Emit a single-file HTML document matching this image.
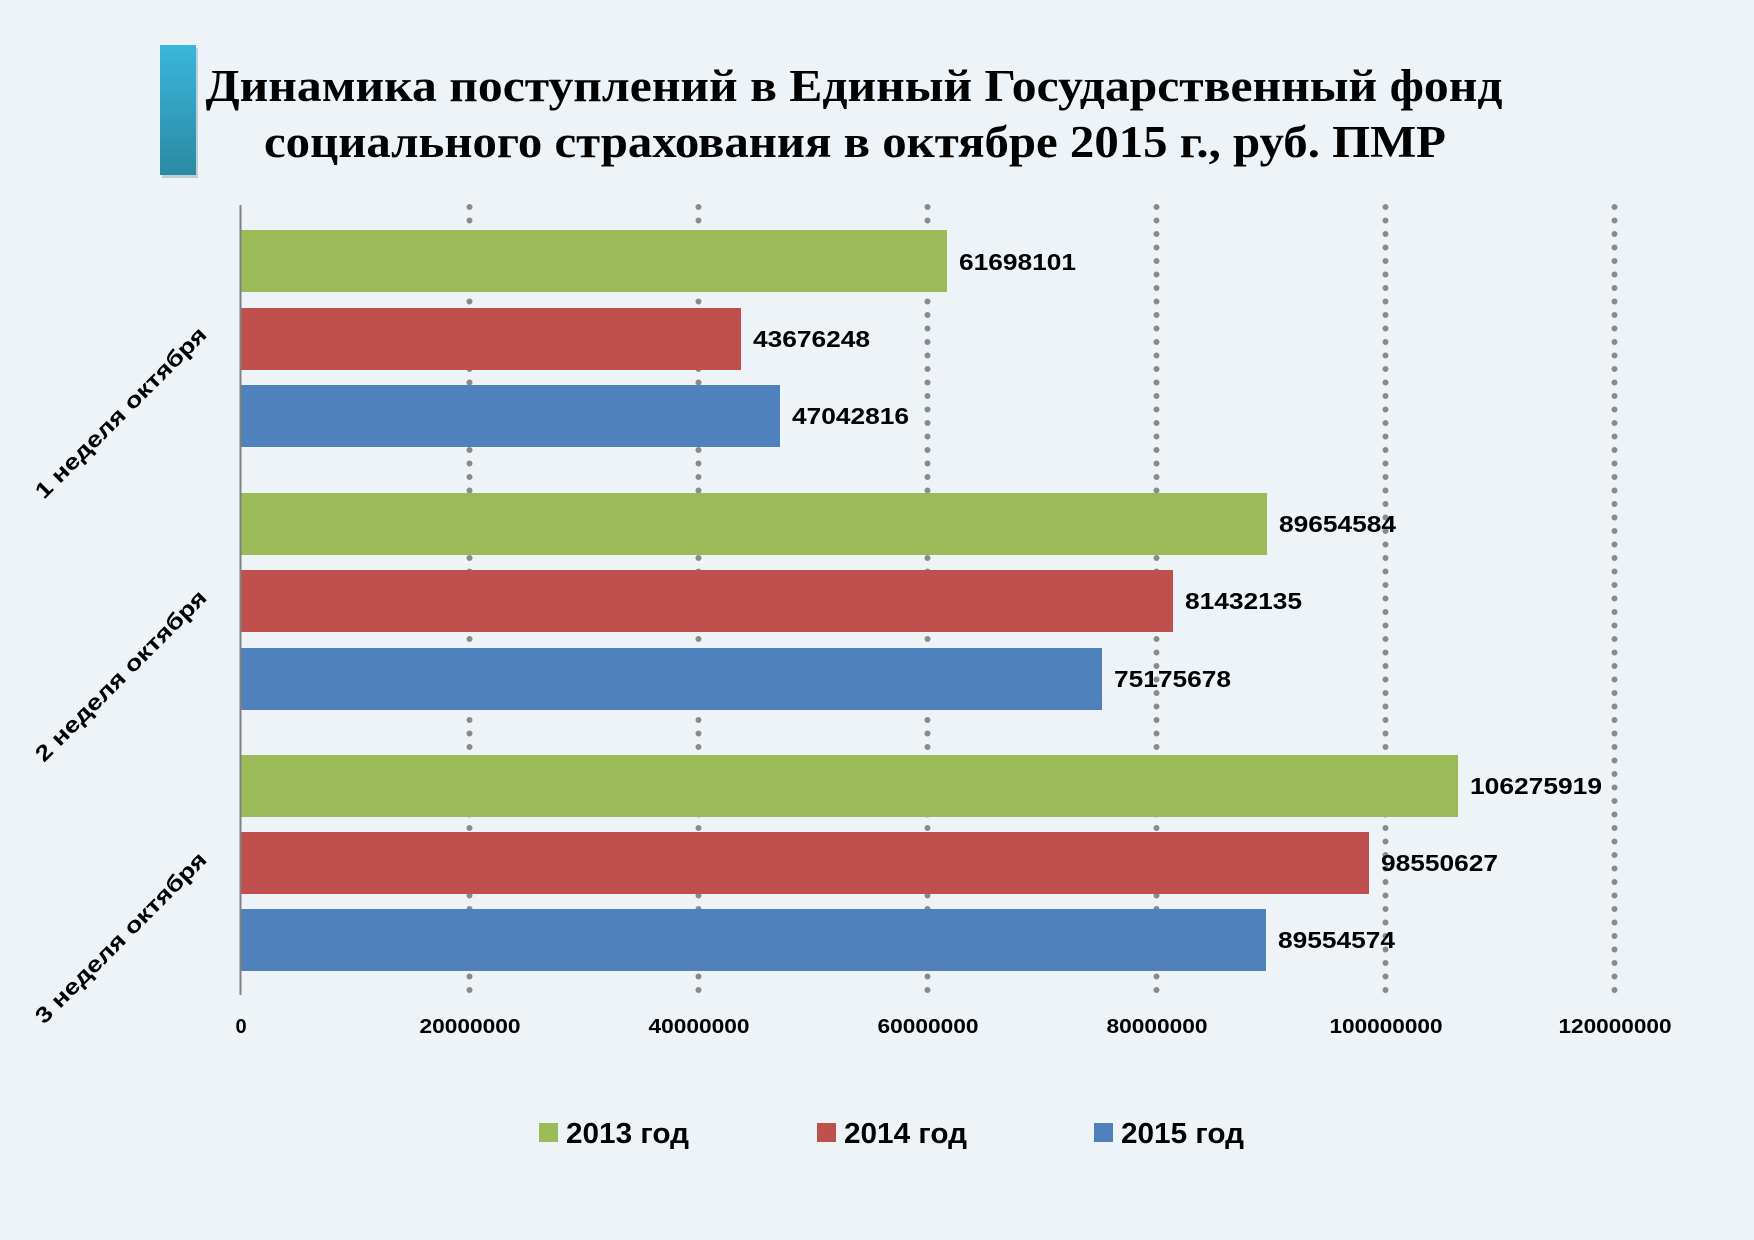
<!DOCTYPE html>
<html><head><meta charset="utf-8"><style>
html,body{margin:0;padding:0;background:#eef3f7;}
svg{display:block;}
text{font-family:"Liberation Sans",sans-serif;font-weight:bold;fill:#000;}
.t{font-family:"Liberation Serif",serif;font-size:45px;}
</style></head><body>
<svg width="1754" height="1240" viewBox="0 0 1754 1240" xmlns="http://www.w3.org/2000/svg">
<defs>
<linearGradient id="acc" x1="0" y1="0" x2="0" y2="1">
<stop offset="0" stop-color="#3bb6da"/><stop offset="1" stop-color="#2a8aa3"/>
</linearGradient>
</defs>
<rect width="1754" height="1240" fill="#eef3f7"/>
<rect x="162" y="48" width="36" height="130" fill="#9fb8c2" opacity="0.6"/>
<rect x="160" y="45" width="36" height="130" fill="url(#acc)"/>
<text class="t" x="854" y="101" text-anchor="middle" textLength="1297" lengthAdjust="spacingAndGlyphs">Динамика поступлений в Единый Государственный фонд</text>
<text class="t" x="855" y="157" text-anchor="middle" textLength="1182" lengthAdjust="spacingAndGlyphs">социального страхования в октябре 2015 г., руб. ПМР</text>
<g stroke="#8a8a8a" stroke-width="6" stroke-linecap="round" stroke-dasharray="0 13.5">
<line x1="469.5" y1="207" x2="469.5" y2="993"/>
<line x1="698.5" y1="207" x2="698.5" y2="993"/>
<line x1="927.5" y1="207" x2="927.5" y2="993"/>
<line x1="1156.5" y1="207" x2="1156.5" y2="993"/>
<line x1="1385.5" y1="207" x2="1385.5" y2="993"/>
<line x1="1614.5" y1="207" x2="1614.5" y2="993"/>
</g>
<g>
<rect x="241" y="230" width="706" height="62" fill="#9bbb59"/>
<rect x="241" y="308" width="500" height="62" fill="#c0504d"/>
<rect x="241" y="385" width="539" height="62" fill="#4f81bd"/>
<rect x="241" y="493" width="1026" height="62" fill="#9bbb59"/>
<rect x="241" y="570" width="932" height="62" fill="#c0504d"/>
<rect x="241" y="648" width="861" height="62" fill="#4f81bd"/>
<rect x="241" y="755" width="1217" height="62" fill="#9bbb59"/>
<rect x="241" y="832" width="1128" height="62" fill="#c0504d"/>
<rect x="241" y="909" width="1025" height="62" fill="#4f81bd"/>
</g>
<line x1="240.5" y1="205" x2="240.5" y2="995" stroke="#808080" stroke-width="2"/>
<g font-size="23">
<text x="959" y="270" textLength="117" lengthAdjust="spacingAndGlyphs">61698101</text>
<text x="753" y="347" textLength="117" lengthAdjust="spacingAndGlyphs">43676248</text>
<text x="792" y="424" textLength="117" lengthAdjust="spacingAndGlyphs">47042816</text>
<text x="1279" y="532" textLength="117" lengthAdjust="spacingAndGlyphs">89654584</text>
<text x="1185" y="609" textLength="117" lengthAdjust="spacingAndGlyphs">81432135</text>
<text x="1114" y="687" textLength="117" lengthAdjust="spacingAndGlyphs">75175678</text>
<text x="1470" y="794" textLength="132" lengthAdjust="spacingAndGlyphs">106275919</text>
<text x="1381" y="871" textLength="117" lengthAdjust="spacingAndGlyphs">98550627</text>
<text x="1278" y="948" textLength="117" lengthAdjust="spacingAndGlyphs">89554574</text>
</g>
<g font-size="20" text-anchor="middle">
<text x="241" y="1033">0</text>
<text x="470" y="1033" textLength="101" lengthAdjust="spacingAndGlyphs">20000000</text>
<text x="699" y="1033" textLength="101" lengthAdjust="spacingAndGlyphs">40000000</text>
<text x="928" y="1033" textLength="101" lengthAdjust="spacingAndGlyphs">60000000</text>
<text x="1157" y="1033" textLength="101" lengthAdjust="spacingAndGlyphs">80000000</text>
<text x="1386" y="1033" textLength="113" lengthAdjust="spacingAndGlyphs">100000000</text>
<text x="1615" y="1033" textLength="113" lengthAdjust="spacingAndGlyphs">120000000</text>
</g>
<g font-size="22" text-anchor="middle">
<text transform="translate(126,418) rotate(-45)" textLength="232" lengthAdjust="spacingAndGlyphs">1 неделя октября</text>
<text transform="translate(126,681) rotate(-45)" textLength="232" lengthAdjust="spacingAndGlyphs">2 неделя октября</text>
<text transform="translate(126,943) rotate(-45)" textLength="232" lengthAdjust="spacingAndGlyphs">3 неделя октября</text>
</g>
<g font-size="29">
<rect x="539" y="1123" width="19" height="19" fill="#9bbb59"/>
<text x="566" y="1143" textLength="123" lengthAdjust="spacingAndGlyphs">2013 год</text>
<rect x="817" y="1123" width="19" height="19" fill="#c0504d"/>
<text x="844" y="1143" textLength="123" lengthAdjust="spacingAndGlyphs">2014 год</text>
<rect x="1094" y="1123" width="19" height="19" fill="#4f81bd"/>
<text x="1121" y="1143" textLength="123" lengthAdjust="spacingAndGlyphs">2015 год</text>
</g>
</svg>
</body></html>
